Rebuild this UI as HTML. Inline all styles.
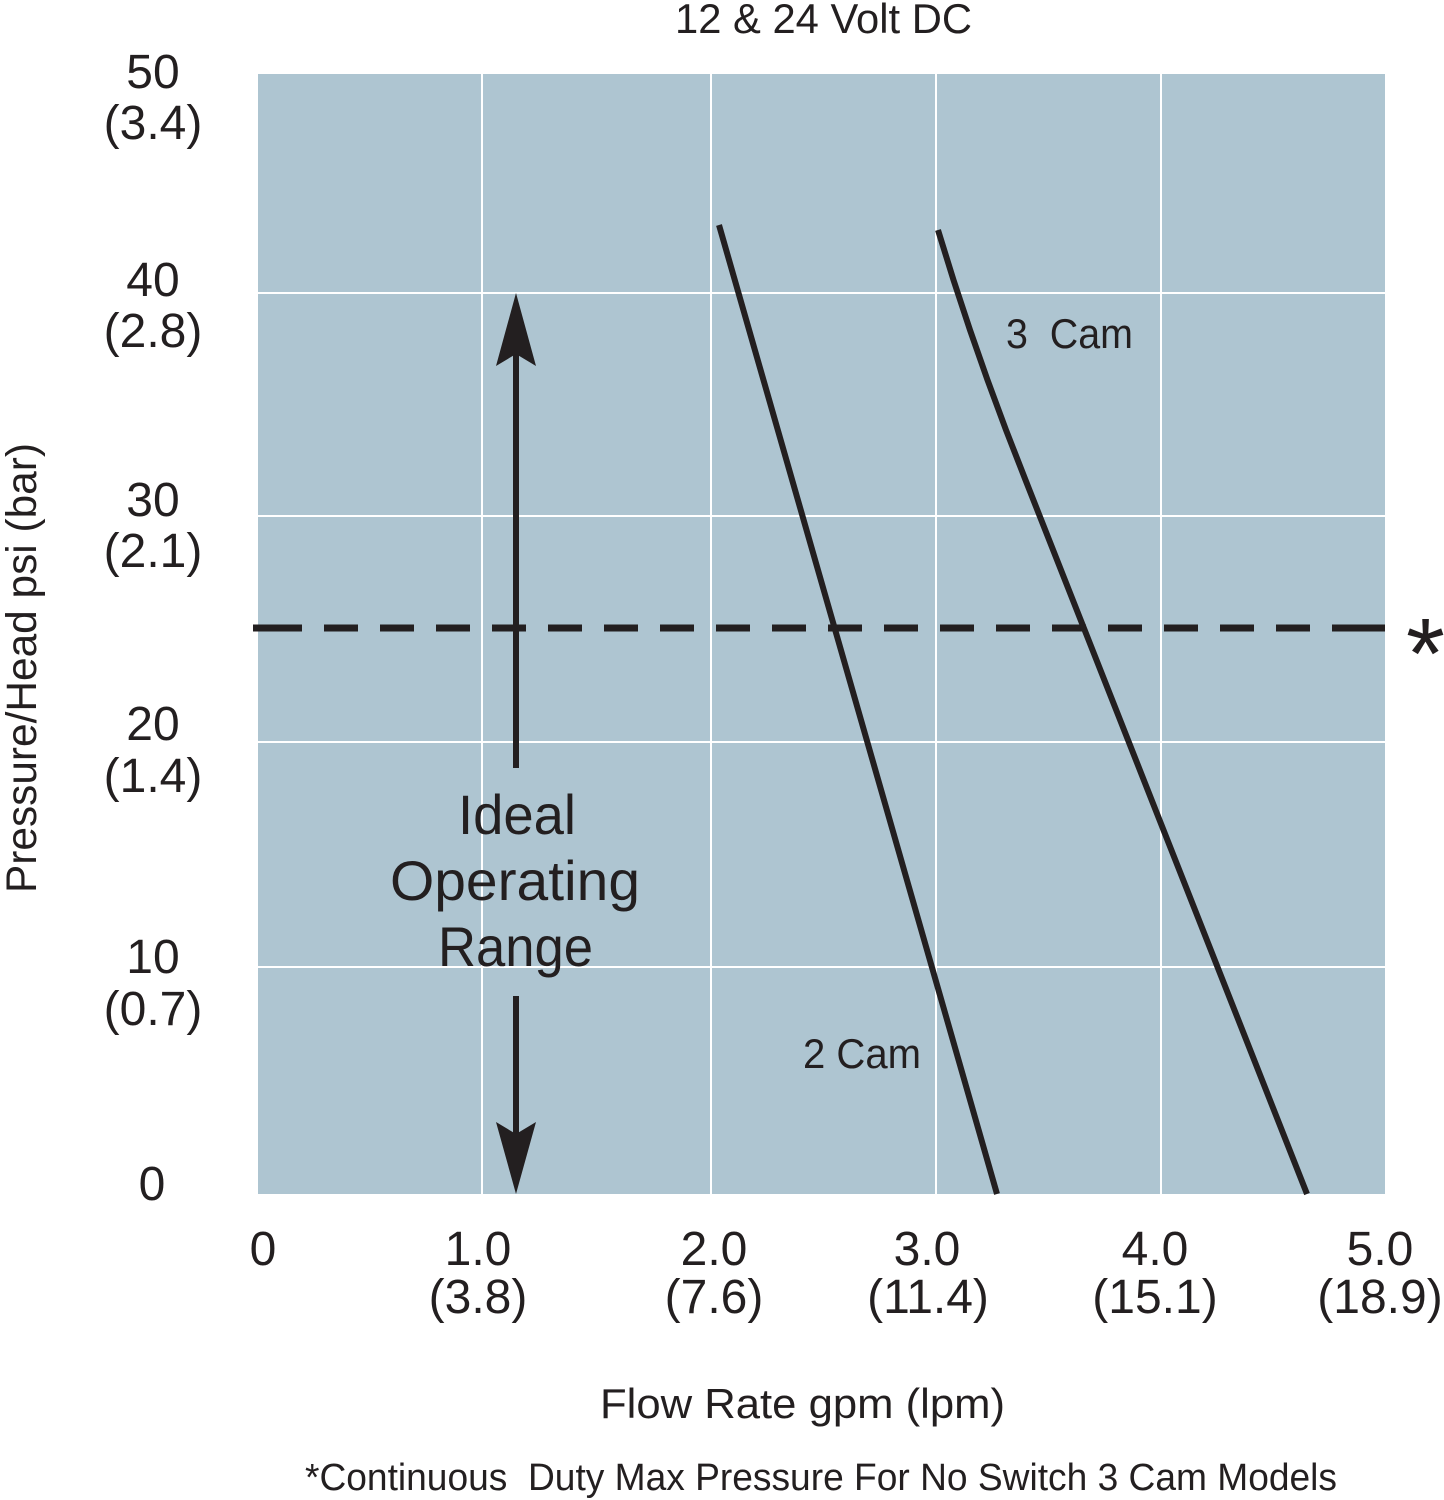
<!DOCTYPE html>
<html><head><meta charset="utf-8">
<style>
html,body{margin:0;padding:0;background:#fff;}
svg{display:block;}
text{font-family:"Liberation Sans",sans-serif;fill:#231f20;}
</style></head>
<body>
<svg width="1444" height="1500" viewBox="0 0 1444 1500" xmlns="http://www.w3.org/2000/svg">
<rect x="0" y="0" width="1444" height="1500" fill="#fff"/>
<!-- plot area -->
<rect x="258" y="74" width="1127" height="1120" fill="#aec5d1"/>
<g stroke="#fff" stroke-width="2">
<line x1="482" y1="74" x2="482" y2="1194"/>
<line x1="711" y1="74" x2="711" y2="1194"/>
<line x1="936" y1="74" x2="936" y2="1194"/>
<line x1="1161" y1="74" x2="1161" y2="1194"/>
<line x1="258" y1="293" x2="1385" y2="293"/>
<line x1="258" y1="516" x2="1385" y2="516"/>
<line x1="258" y1="742" x2="1385" y2="742"/>
<line x1="258" y1="967" x2="1385" y2="967"/>
</g>
<!-- dashed max pressure line -->
<g stroke="#231f20" stroke-width="7">
<line x1="253" y1="628" x2="302" y2="628"/>
<line x1="324" y1="628" x2="1332" y2="628" stroke-dasharray="34 22"/>
<line x1="1332" y1="628" x2="1385" y2="628"/>
</g>
<!-- curves -->
<g stroke="#231f20" stroke-width="6" fill="none" stroke-linejoin="round">
<line x1="719" y1="225" x2="997" y2="1194"/>
<polyline points="938,230 953.5,280 970,330 987.5,380 1006,430 1025.5,480 1307,1194"/>
</g>
<!-- arrows -->
<g fill="#231f20">
<rect x="513" y="352" width="6" height="416"/>
<polygon points="516,293 536,366 516,354 496,366"/>
<rect x="513" y="996" width="6" height="140"/>
<polygon points="516,1194 536,1122 516,1134 496,1122"/>
</g>
<!-- title -->
<text x="675" y="33" font-size="42" textLength="297" lengthAdjust="spacingAndGlyphs">12 &amp; 24 Volt DC</text>
<!-- in-plot labels -->
<text x="458" y="834" font-size="56" textLength="118" lengthAdjust="spacingAndGlyphs">Ideal</text>
<text x="390" y="900" font-size="56" textLength="250" lengthAdjust="spacingAndGlyphs">Operating</text>
<text x="438" y="966" font-size="56" textLength="155" lengthAdjust="spacingAndGlyphs">Range</text>
<text x="1006" y="348" font-size="42" textLength="127" lengthAdjust="spacingAndGlyphs" xml:space="preserve">3  Cam</text>
<text x="803" y="1068" font-size="42" textLength="118" lengthAdjust="spacingAndGlyphs">2 Cam</text>
<text x="1406" y="688" font-size="100">*</text>
<!-- y tick labels -->
<g font-size="48" text-anchor="middle">
<text x="153" y="88">50</text><text x="153" y="139">(3.4)</text>
<text x="153" y="296">40</text><text x="153" y="347">(2.8)</text>
<text x="153" y="516">30</text><text x="153" y="567">(2.1)</text>
<text x="153" y="740">20</text><text x="153" y="792">(1.4)</text>
<text x="153" y="973">10</text><text x="153" y="1025">(0.7)</text>
<text x="152" y="1200">0</text>
</g>
<!-- x tick labels -->
<g font-size="48" text-anchor="middle">
<text x="263" y="1265">0</text>
<text x="478" y="1265">1.0</text><text x="478" y="1313">(3.8)</text>
<text x="714" y="1265">2.0</text><text x="714" y="1313">(7.6)</text>
<text x="927" y="1265">3.0</text><text x="928" y="1313">(11.4)</text>
<text x="1155" y="1265">4.0</text><text x="1155" y="1313">(15.1)</text>
<text x="1380" y="1265">5.0</text><text x="1380" y="1313">(18.9)</text>
</g>
<!-- axis titles -->
<text transform="translate(36,893) rotate(-90)" x="0" y="0" font-size="43" textLength="450" lengthAdjust="spacingAndGlyphs">Pressure/Head psi (bar)</text>
<text x="600" y="1418" font-size="42" textLength="405" lengthAdjust="spacingAndGlyphs">Flow Rate gpm (lpm)</text>
<text x="305" y="1490" font-size="38" textLength="1032" lengthAdjust="spacingAndGlyphs" xml:space="preserve">*Continuous  Duty Max Pressure For No Switch 3 Cam Models</text>
</svg>
</body></html>
